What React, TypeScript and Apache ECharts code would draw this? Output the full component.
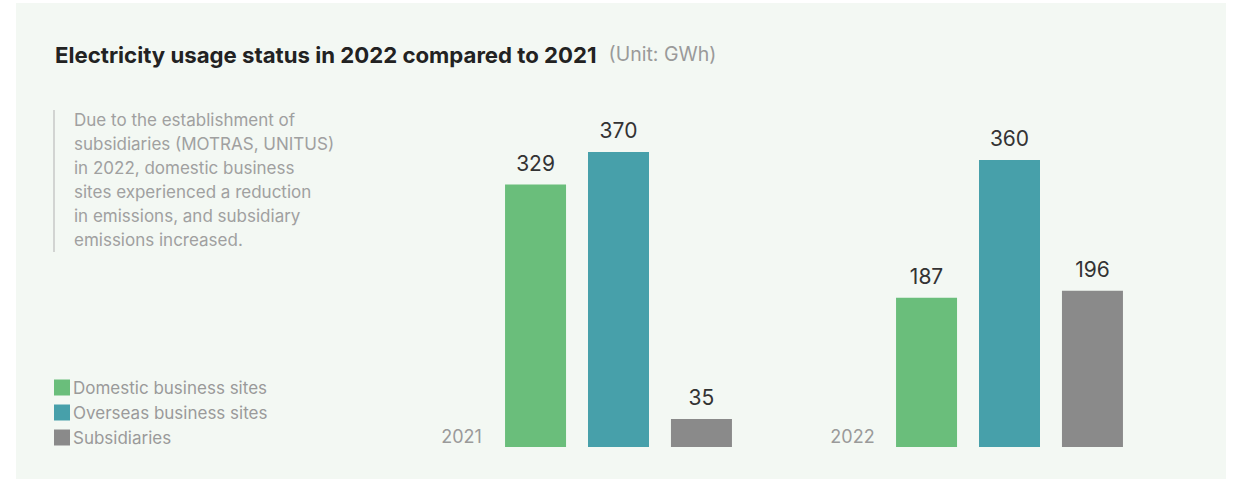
import React, { useEffect, useRef } from "react";
import * as echarts from "echarts";

const years = ["2021", "2022"];
const seriesNames = ["Domestic business sites", "Overseas business sites", "Subsidiaries"];
const domestic = [329, 187];
const overseas = [370, 360];
const subsidiaries = [35, 196];
const colors = ["#6abe7b", "#47a0aa", "#8a8a8a"];
const titleText = "Electricity usage status in 2022 compared to 2021";
const unitText = "(Unit: GWh)";
const noteLines = [
  "Due to the establishment of",
  "subsidiaries (MOTRAS, UNITUS)",
  "in 2022, domestic business",
  "sites experienced a reduction",
  "in emissions, and subsidiary",
  "emissions increased.",
];

const FONT = "Inter, 'Noto Sans', sans-serif";

export default function App() {
  const ref = useRef<HTMLDivElement>(null);
  useEffect(() => {
    const chart = echarts.init(ref.current!, null, { renderer: "svg" });
    const values = [domestic, overseas, subsidiaries];
    chart.setOption({
      animation: false,
      backgroundColor: "#ffffff",
      title: {
        left: 55,
        top: 43,
        padding: 0,
        text: `{a|${titleText}}{b|${unitText}}`,
        textStyle: {
          rich: {
            a: { fontSize: 22.2, fontWeight: "bold", color: "#222222", fontFamily: FONT },
            b: {
              fontSize: 19.5,
              fontWeight: "normal",
              color: "#9a9a9a",
              fontFamily: FONT,
              padding: [0, 0, 0, 12],
            },
          },
        },
      },
      legend: {
        data: seriesNames,
        orient: "vertical",
        left: 54,
        top: 379,
        itemWidth: 16,
        itemHeight: 16,
        itemGap: 8,
        icon: "rect",
        selectedMode: false,
        padding: 0,
        textStyle: { fontSize: 17, color: "#9a9a9a", fontFamily: FONT, padding: [0, 0, 0, -2] },
      },
      graphic: [
        {
          type: "rect",
          z: -10,
          silent: true,
          shape: { x: 16, y: 3, width: 1210, height: 476 },
          style: { fill: "#f3f8f3" },
        },
        {
          type: "rect",
          silent: true,
          shape: { x: 53, y: 110, width: 2, height: 142 },
          style: { fill: "#d2d4d2" },
        },
        {
          type: "text",
          silent: true,
          x: 74,
          y: 108,
          style: {
            text: noteLines.join("\n"),
            fontSize: 17,
            lineHeight: 24,
            fill: "#a0a0a0",
            fontFamily: FONT,
          },
        },
      ],
      grid: { left: 423, right: 34, top: 128, bottom: 32 },
      xAxis: {
        type: "category",
        data: years,
        axisLine: { show: false },
        axisTick: { show: false },
        axisLabel: {
          inside: true,
          margin: 2,
          formatter: "{y|{value}}",
          rich: {
            y: { fontSize: 18, color: "#9a9a9a", fontFamily: FONT, padding: [0, 314, 0, 0] },
          },
        },
      },
      yAxis: {
        type: "value",
        min: 0,
        max: 400,
        show: false,
        splitLine: { show: false },
      },
      series: seriesNames.map((name, i) => ({
        name,
        type: "bar",
        data: values[i],
        barWidth: 61,
        barGap: "36%",
        itemStyle: { color: colors[i] },
        label: {
          show: true,
          position: "top",
          distance: 11,
          fontSize: 21,
          color: "#333333",
          fontFamily: FONT,
        },
      })),
    });
    return () => chart.dispose();
  }, []);
  return (
    <div
      ref={ref}
      style={{ position: "fixed", left: 0, top: 0, width: 1239, height: 479, background: "#fff" }}
    />
  );
}
